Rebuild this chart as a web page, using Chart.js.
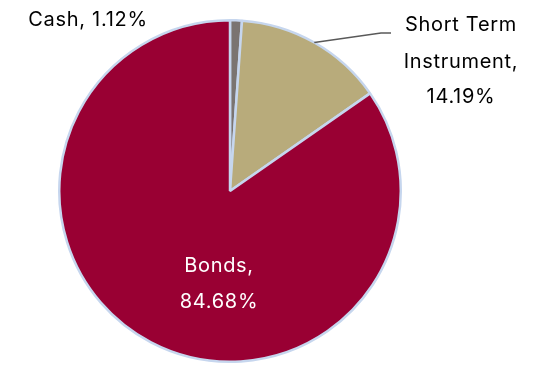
<!DOCTYPE html>
<html lang="en">
<head>
    <meta charset="UTF-8">
    <title>Asset Allocation</title>
    <script src="https://cdn.jsdelivr.net/npm/chart.js@4/dist/chart.umd.min.js"></script>
    <style>
        html, body { margin: 0; padding: 0; background: #fff; }
        #canvas-container { width: 550px; height: 365px; }
    </style>
</head>
<body>
    <div id="canvas-container">
        <canvas id="myChart"></canvas>
    </div>
    <script>
        const labels = ['Cash', 'Short Term Instrument', 'Bonds']
        const values = [1.12, 14.19, 84.68]
        const colors = ['#7a7471', '#b8ab7b', '#990033']

        const FONT = '20px Inter, "Noto Sans", sans-serif'

        // draws the "Name, xx.xx%" labels and the leader line
        const sliceLabels = {
            id: 'sliceLabels',
            afterDatasetsDraw(chart) {
                const ctx = chart.ctx
                const arcs = chart.getDatasetMeta(0).data
                const cx = arcs[0].x, cy = arcs[0].y
                const r = arcs[0].outerRadius
                const pct = i => values[i].toFixed(2) + '%'

                ctx.save()
                ctx.font = FONT
                ctx.letterSpacing = '0.7px'
                ctx.textAlign = 'center'
                ctx.textBaseline = 'middle'

                // Cash, top left
                ctx.fillStyle = '#000'
                ctx.fillText(labels[0] + ', ' + pct(0), cx - 142, cy - 171)

                // Short Term Instrument, right with leader
                const st = arcs[1]
                const mid = (st.startAngle + st.endAngle) / 2
                const ex = cx + Math.cos(mid) * r
                const ey = cy + Math.sin(mid) * r
                ctx.strokeStyle = '#595959'
                ctx.lineWidth = 1.3
                ctx.beginPath()
                ctx.moveTo(ex, ey)
                ctx.lineTo(cx + 151, cy - 158)
                ctx.lineTo(cx + 161, cy - 158)
                ctx.stroke()
                ctx.fillText('Short Term', cx + 231, cy - 166)
                ctx.fillText('Instrument,', cx + 231, cy - 129)
                ctx.fillText(pct(1), cx + 231, cy - 94)

                // Bonds, inside
                ctx.fillStyle = '#fff'
                ctx.fillText(labels[2] + ',', cx - 11, cy + 75)
                ctx.fillText(pct(2), cx - 11, cy + 111)
                ctx.restore()
            }
        }

        new Chart(document.getElementById('myChart'), {
            type: 'pie',
            data: {
                labels: labels,
                datasets: [{
                    data: values,
                    backgroundColor: colors,
                    borderColor: '#c6d6ee',
                    borderWidth: 2.5
                }]
            },
            options: {
                responsive: true,
                maintainAspectRatio: false,
                animation: false,
                layout: { padding: { left: 56, right: 146, top: 19, bottom: 2 } },
                plugins: {
                    legend: { display: false },
                    tooltip: { enabled: false }
                }
            },
            plugins: [sliceLabels]
        })
    </script>
</body>
</html>
